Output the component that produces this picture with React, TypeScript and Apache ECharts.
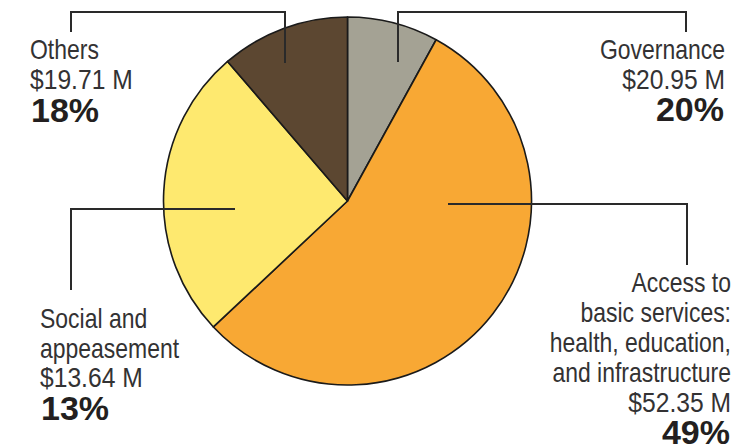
import React, { useEffect, useRef } from "react";
import * as echarts from "echarts";

// ---- data ----
const categories = [
  "Governance",
  "Access to basic services: health, education, and infrastructure",
  "Social and appeasement",
  "Others",
];
// slice sizes as drawn in the picture (share of the circle, %)
const sliceShares = [8.0, 55.0, 25.7, 11.3];
const amountLabels = ["$20.95 M", "$52.35 M", "$13.64 M", "$19.71 M"];
const percentLabels = ["20%", "49%", "13%", "18%"];
const nameLines = [
  ["Governance"],
  ["Access to", "basic services:", "health, education,", "and infrastructure"],
  ["Social and", "appeasement"],
  ["Others"],
];

// ---- styles / layout ----
const sliceColors = ["#a4a294", "#f8a834", "#fee96f", "#5c4731"];
const TEXT_COLOR = "#333233";
const BOLD_COLOR = "#231f20";
const LINE_COLOR = "#2a2a2a";
const FONT = "'Liberation Sans', Arial, Helvetica, sans-serif";
const FS = 28;
const FS_BOLD = 34;
const PITCH = 30;
const PITCH_BOLD = 32;
const NAME_SCALE = 0.82;
const AMOUNT_SCALE = 0.88;
const CENTRAL = 0.3465;

const labelLayout = [
  { x: 725, y: 59, align: "right" },
  { x: 731, y: 292, align: "right" },
  { x: 40, y: 327.5, align: "left" },
  { x: 30, y: 59.3, align: "left" },
];
const leaderLines = [
  [[398, 62], [398, 12], [686, 12], [686, 32]],
  [[448, 204], [687, 204], [687, 265]],
  [[235, 209], [71, 209], [71, 290]],
  [[285, 63], [285, 12], [71, 12], [71, 32]],
];

function textEl(t: string, x: number, baseline: number, fs: number, bold: boolean, align: string, scaleX: number) {
  return {
    type: "text",
    z: 100,
    silent: true,
    x,
    y: baseline - CENTRAL * fs,
    scaleX,
    style: {
      text: t,
      fill: bold ? BOLD_COLOR : TEXT_COLOR,
      fontSize: fs,
      fontFamily: FONT,
      fontWeight: bold ? "bold" : "normal",
      align,
      verticalAlign: "middle",
      lineHeight: 30,
    },
  };
}

function buildGraphics() {
  const els: any[] = [];
  leaderLines.forEach((pts) => {
    els.push({
      type: "polyline",
      z: 100,
      silent: true,
      shape: { points: pts },
      style: { stroke: LINE_COLOR, lineWidth: 2, fill: null },
    });
  });
  categories.forEach((_, i) => {
    const lay = labelLayout[i];
    const names = nameLines[i];
    names.forEach((t, k) => {
      els.push(textEl(t, lay.x, lay.y + k * PITCH, FS, false, lay.align, NAME_SCALE));
    });
    const amountBase = lay.y + names.length * PITCH;
    els.push(textEl(amountLabels[i], lay.x, amountBase, FS, false, lay.align, AMOUNT_SCALE));
    const pb = amountBase + PITCH_BOLD;
    els.push(
      textEl(percentLabels[i], lay.align === "right" ? lay.x - 1 : lay.x + 1, pb, FS_BOLD, true, lay.align, 1)
    );
  });
  return els;
}

export default function App() {
  const ref = useRef<HTMLDivElement>(null);
  useEffect(() => {
    if (!ref.current) return;
    const chart = echarts.init(ref.current, null, { renderer: "svg" });
    chart.setOption({
      animation: false,
      backgroundColor: "#ffffff",
      series: [
        {
          type: "pie",
          center: [347.5, 201],
          radius: 184,
          startAngle: 90,
          clockwise: true,
          silent: true,
          label: { show: false },
          labelLine: { show: false },
          emphasis: { disabled: true },
          itemStyle: { borderColor: "#1a1a1a", borderWidth: 1.6 },
          data: categories.map((name, i) => ({
            name,
            value: sliceShares[i],
            itemStyle: { color: sliceColors[i] },
          })),
        },
      ],
      graphic: { elements: buildGraphics() },
    });
    return () => chart.dispose();
  }, []);
  return (
    <div
      ref={ref}
      style={{ position: "fixed", left: 0, top: 0, width: 749, height: 448, background: "#fff" }}
    />
  );
}
